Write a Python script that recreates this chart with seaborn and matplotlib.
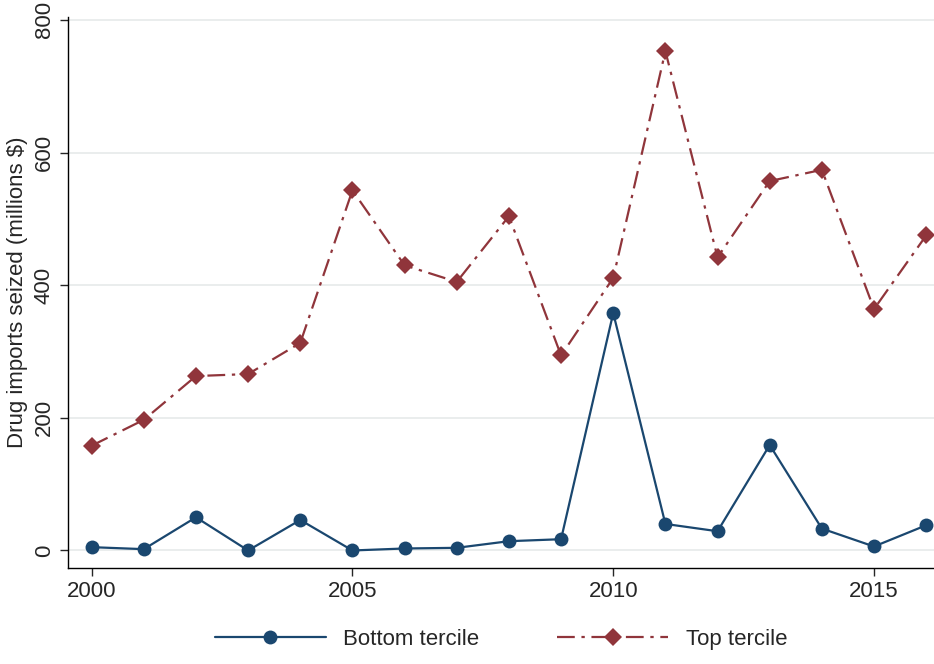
import numpy as np
import pandas as pd
import matplotlib.pyplot as plt
import seaborn as sns

years = list(range(2000, 2017))
bottom = [5, 2, 50, 0, 46, 0, 3, 4, 14, 17, 358, 40, 29, 159, 33, 6, 38]
top = [158, 197, 263, 266, 313, 543, 430, 405, 504, 294, 411, 753, 442, 557, 574, 364, 475]

sns.set_style("white")
plt.rcParams['font.family'] = ['Liberation Sans', 'DejaVu Sans']

df = pd.DataFrame({"year": years, "Bottom tercile": bottom, "Top tercile": top})

fig = plt.figure(figsize=(9.34, 6.64), dpi=100)
ax = fig.add_axes([0.073, 0.145, 0.927, 0.83])

sns.lineplot(data=df, x="year", y="Bottom tercile", ax=ax, color="#1a476f",
             marker="o", markersize=10, markeredgewidth=0, linewidth=1.6, label="Bottom tercile")
sns.lineplot(data=df, x="year", y="Top tercile", ax=ax, color="#90353b",
             marker="D", markersize=9, markeredgewidth=0, linewidth=1.6,
             dashes=False, linestyle=(0, (8, 3, 1.5, 3)), label="Top tercile")

ax.set_xlim(1999.55, 2016.15)
ax.set_ylim(-26, 805)
ax.set_xticks([2000, 2005, 2010, 2015])
ax.set_yticks([0, 200, 400, 600, 800])
ax.set_yticklabels(["0", "200", "400", "600", "800"], rotation=90, va="center")
ax.yaxis.grid(True, color="#e6eaea", linewidth=1.2)
ax.set_axisbelow(True)
ax.tick_params(axis="both", labelsize=16, length=6, width=1, bottom=True, left=True, direction="out")
ax.set_xlabel("")
ax.set_ylabel("Drug imports seized (millions $)", fontsize=16)
for s in ["top", "right"]:
    ax.spines[s].set_visible(False)
for s in ["left", "bottom"]:
    ax.spines[s].set_color("black")
    ax.spines[s].set_linewidth(1)

ax.legend(loc="upper center", bbox_to_anchor=(0.5, -0.075), ncol=2, frameon=False,
          fontsize=16, handlelength=5, columnspacing=3.5)

fig.savefig("out.png", dpi=100)
